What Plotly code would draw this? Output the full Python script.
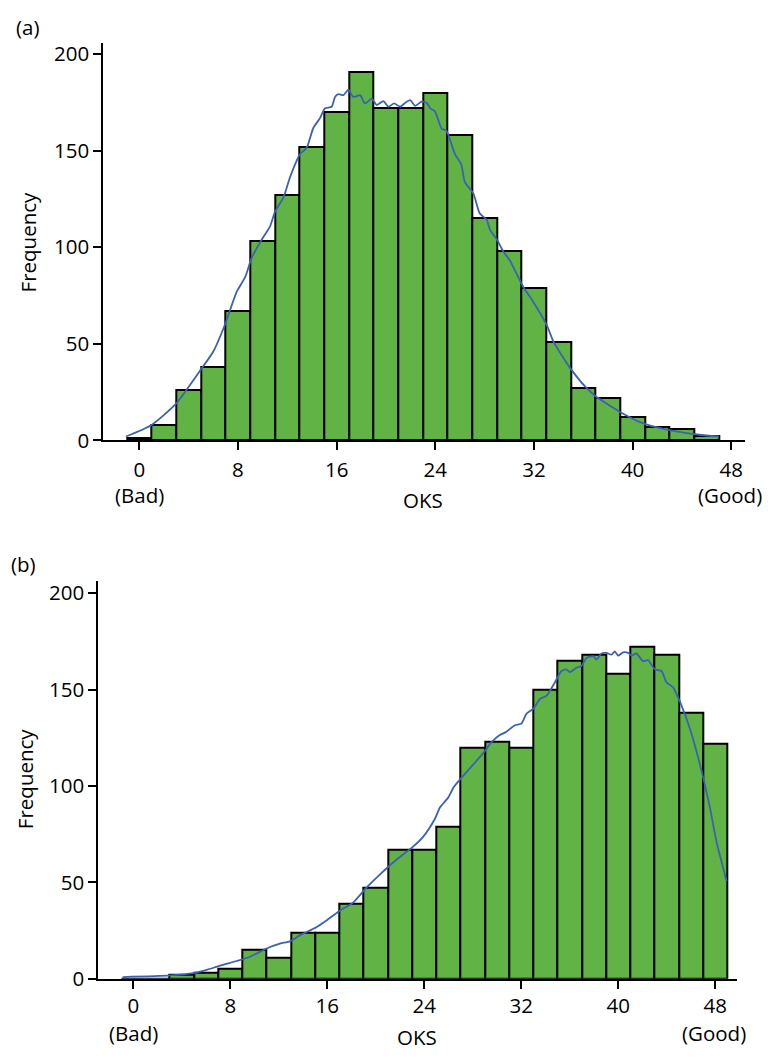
import plotly.graph_objects as go

# ---- data -------------------------------------------------------------
# histogram bins (width 2, centred on even OKS values)
bins_a = [0, 2, 4, 6, 8, 10, 12, 14, 16, 18, 20, 22, 24, 26, 28, 30, 32, 34, 36, 38, 40, 42, 44, 46]
counts_a = [1, 8, 26, 38, 67, 103, 127, 152, 170, 191, 172, 172, 180, 158, 115, 98, 79, 51, 27, 22, 12, 7, 6, 2]

bins_b = [0, 2, 4, 6, 8, 10, 12, 14, 16, 18, 20, 22, 24, 26, 28, 30, 32, 34, 36, 38, 40, 42, 44, 46, 48]
counts_b = [0, 0, 2, 3, 5, 15, 11, 24, 24, 39, 47, 67, 67, 79, 120, 123, 120, 150, 165, 168, 158, 172, 168, 138, 122]

# density curves (scaled to frequency)
kde_a_x = [-1.08, 1.0, 2.98, 4.92, 6.0, 6.95, 7.9, 8.58, 9.12, 9.93, 10.6, 11.0, 11.7, 12.22, 13.03,
           13.57, 14.11, 14.65, 15.06, 15.6, 15.87, 16.14, 16.55, 16.95, 17.36, 17.9, 18.3, 18.84,
           19.25, 19.79, 20.2, 20.66, 21.15, 21.55, 21.96, 22.37, 22.9, 23.3, 23.6, 23.98, 24.52,
           24.9, 25.6, 26.1, 26.4, 27.09, 27.6, 28.17, 28.44, 29.0, 29.5, 30.06, 31.14, 31.95, 33.03,
           33.57, 34.38, 35.0, 36.2, 37.0, 38.1, 39.2, 40.5, 41.9, 43.5, 45.4, 47.0]
kde_a_y = [2.0, 8, 19, 36, 46, 60, 77, 84.5, 94.6, 104, 110.8, 118.4, 126, 136.3, 148.2,
           151.6, 161.8, 166.9, 172, 172.8, 177.9, 179.3, 178.8, 181.6, 177.9, 178.8, 174.5, 177,
           173.7, 175.7, 172.8, 174.5, 172.8, 174.8, 176.2, 173.3, 175.4, 174.8, 172, 170.3, 161.4,
           160.4, 148.2, 143, 133.7, 127.8, 117.6, 114.2, 109, 104, 98, 93, 79.4, 71.7, 59.8,
           51.3, 42.8, 36.9, 27.5, 22.8, 18.2, 13.9, 9.7, 6.8, 4.6, 2.9, 2.0]

kde_b_x = [-0.88, 3.03, 4.95, 6.05, 7.15, 8.52, 9.62, 10.99, 12.09, 12.92, 13.74, 15.1, 15.93, 17.03,
           18.13, 19.23, 20.33, 21.7, 23.0, 23.9, 24.88, 25.3, 25.98, 26.4, 27.08, 27.9, 28.86, 29.55,
           30.23, 30.78, 31.47, 32.02, 32.44, 32.99, 33.54, 34.09, 34.77, 35.32, 35.73, 36.0, 36.55,
           36.97, 37.38, 37.93, 38.2, 38.62, 39.03, 39.44, 39.72, 39.99, 40.4, 40.82, 41.1, 41.5,
           42.05, 42.47, 43.02, 43.57, 43.98, 44.53, 45.22, 45.91, 46.46, 47.01, 47.56, 48.11, 48.94]
kde_b_y = [0.85, 1.7, 2.9, 4.6, 6.8, 9.2, 11.4, 15.7, 18.2, 19.4, 22.5, 26.7, 30.2, 35.3,
           39.5, 47.2, 54, 61.7, 68.1, 73.6, 83, 88.9, 94, 99.1, 104.3, 110.2, 117, 122.7,
           126.4, 128.1, 131.5, 132.4, 137.5, 140, 145.1, 146.8, 153.7, 159.6, 160.5, 159.1, 161.3,
           162.2, 166.4, 167.3, 165.6, 168.7, 169, 168.1, 169.8, 167.6, 169.3, 169, 167.6, 168.7,
           164.7, 165.2, 160.5, 159.6, 153.7, 151.1, 141.7, 129.8, 117.9, 104.3, 88.9, 71, 50.6]

x_ticks = [0, 8, 16, 24, 32, 40, 48]
y_ticks = [0, 50, 100, 150, 200]

# ---- style ------------------------------------------------------------
FONT = "Open Sans"
FS = 20.5
GREEN = "#62b346"
BLUE = "#3a62b4"

fig = go.Figure()

for xa, ya, bins, counts, kx, ky in [
    ("x", "y", bins_a, counts_a, kde_a_x, kde_a_y),
    ("x2", "y2", bins_b, counts_b, kde_b_x, kde_b_y),
]:
    fig.add_trace(go.Bar(
        x=bins, y=counts, width=2, xaxis=xa, yaxis=ya,
        marker=dict(color=GREEN, line=dict(color="black", width=2)),
        showlegend=False,
    ))
    fig.add_trace(go.Scatter(
        x=kx, y=ky, xaxis=xa, yaxis=ya, mode="lines",
        line=dict(color=BLUE, width=1.8, shape="spline", smoothing=0.6),
        showlegend=False,
    ))

axis_common = dict(
    showgrid=False, zeroline=False, showline=True, linecolor="black", linewidth=2,
    ticks="outside", ticklen=8, tickwidth=2, tickcolor="black",
    tickfont=dict(family=FONT, size=FS, color="black"),
)

fig.update_layout(
    width=768, height=1059,
    margin=dict(l=0, r=0, t=0, b=0),
    paper_bgcolor="white", plot_bgcolor="white",
    bargap=0,
    xaxis=dict(domain=[0.1345, 0.970], range=[-2.92, 49.11], tickvals=x_ticks,
               anchor="y", ticklabelstandoff=2, **axis_common),
    yaxis=dict(domain=[0.5807, 0.9616], range=[0, 205.8], tickvals=y_ticks,
               anchor="x", **axis_common),
    xaxis2=dict(domain=[0.128, 0.9592], range=[-2.89, 49.77], tickvals=x_ticks,
                anchor="y2", **axis_common),
    yaxis2=dict(domain=[0.0645, 0.446], range=[0, 206.4], tickvals=y_ticks,
                anchor="x2", **axis_common),
)

def label(text, x, y, angle=0):
    fig.add_annotation(
        text=text, x=x, y=y, xref="paper", yref="paper",
        xanchor="center", yanchor="middle", showarrow=False, textangle=angle,
        font=dict(family=FONT, size=FS, color="black"),
    )

# panel (a)
label("(a)", 0.036, 0.977)
label("Frequency", 0.0365, 0.7705, -90)
label("(Bad)", 139 / 768, 0.5287)
label("(Good)", 730 / 768, 0.5287)
label("OKS", 423 / 768, 0.5231)

# panel (b)
label("(b)", 0.030, 0.4618)
label("Frequency", 0.0326, 0.2559, -90)
label("(Bad)", 133 / 768, 0.0127)
label("(Good)", 714 / 768, 0.0127)
label("OKS", 417 / 768, 0.0085)

fig.write_html("out.html")
